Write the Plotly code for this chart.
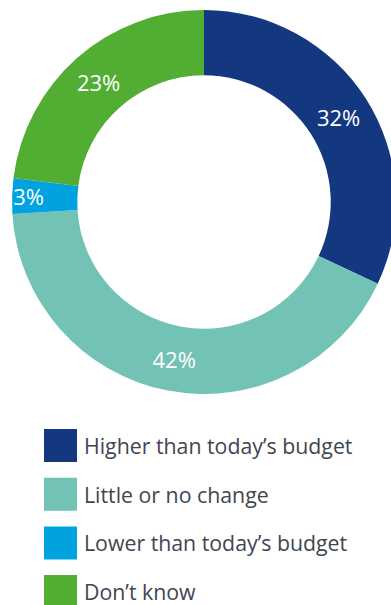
import plotly.graph_objects as go

# Budget expectation shares (%)
categories = ["Higher than today’s budget", "Little or no change",
              "Lower than today’s budget", "Don’t know"]
values = [32, 42, 3, 23]
colors = ["#14387f", "#72c3b5", "#00a3e0", "#52ae32"]

W, H = 396, 605
FONT = "Open Sans"
LABEL_SIZE = 22

fig = go.Figure(go.Pie(
    labels=categories,
    values=values,
    sort=False,
    direction="clockwise",
    rotation=0,
    hole=0.66,
    marker=dict(colors=colors, line=dict(width=0)),
    texttemplate="%{value}%",
    textposition="inside",
    insidetextorientation="horizontal",
    insidetextfont=dict(family=FONT, size=LABEL_SIZE, color="white"),
    showlegend=False,
    domain=dict(x=[12 / W, 1], y=[1 - 394 / H, 1 - 10 / H]),
))

# Custom legend: large colour squares with labels underneath the donut
shapes, annotations = [], []
row0, pitch, sq = 445.5, 48.7, 33
for i, (name, col) in enumerate(zip(categories, colors)):
    cy = row0 + i * pitch
    shapes.append(dict(
        type="rect", xref="paper", yref="paper",
        x0=44 / W, x1=(44 + sq) / W,
        y0=1 - (cy + sq / 2) / H, y1=1 - (cy - sq / 2) / H,
        fillcolor=col, line=dict(width=0), layer="above",
    ))
    annotations.append(dict(
        text=name, xref="paper", yref="paper",
        x=82 / W, y=1 - cy / H, xanchor="left", yanchor="middle",
        showarrow=False,
        font=dict(family=FONT, size=21.3, color="#41464f"),
    ))

fig.update_layout(
    width=W, height=H,
    margin=dict(l=0, r=0, t=0, b=0),
    paper_bgcolor="white",
    plot_bgcolor="white",
    # keep every slice label at the same size, including the thin 3% slice
    uniformtext=dict(minsize=LABEL_SIZE, mode="show"),
    shapes=shapes,
    annotations=annotations,
)

fig.write_html("out.html")
